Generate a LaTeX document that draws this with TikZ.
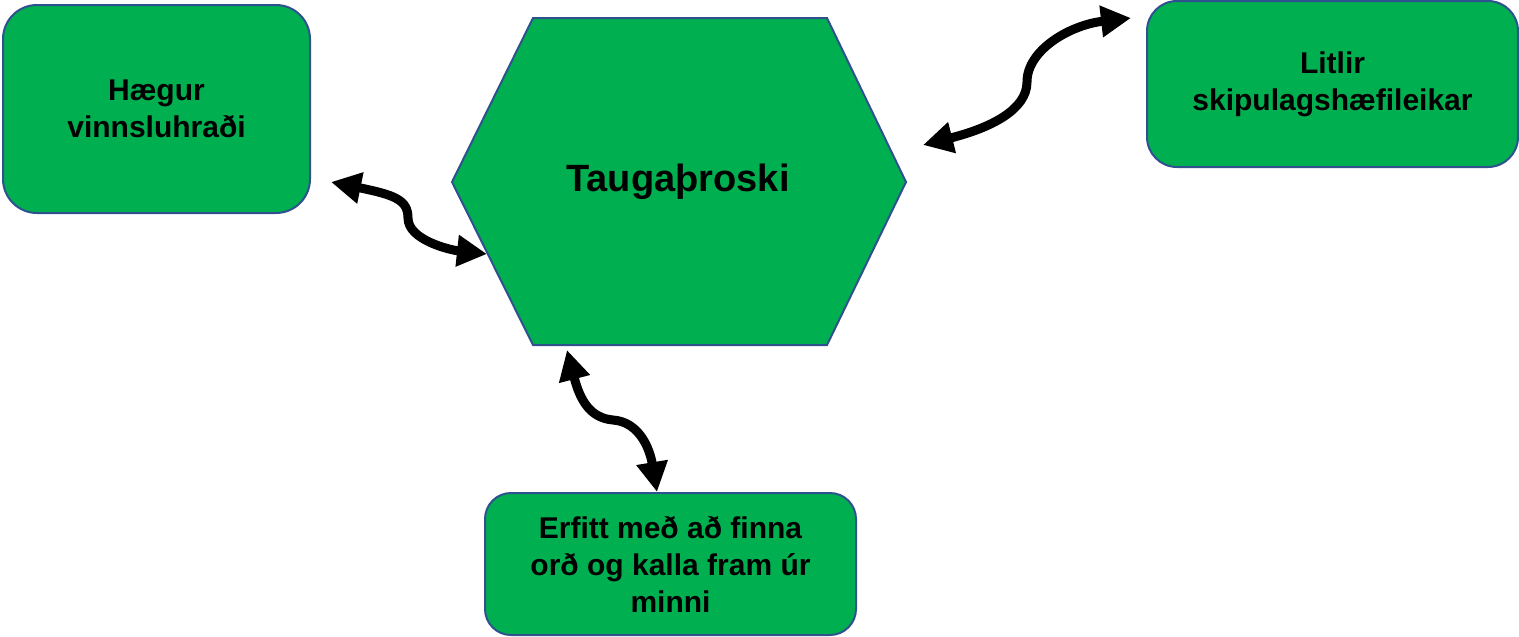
\documentclass[tikz,border=0pt]{standalone}
\usepackage{fontspec}
\setmainfont{Liberation Sans}
\usetikzlibrary{arrows.meta}
\definecolor{boxgreen}{HTML}{00B050}
\definecolor{boxblue}{RGB}{47,82,143}
\tikzset{
  greenbox/.style={draw=boxblue, line width=2pt, fill=boxgreen, align=center,
    inner sep=0pt, font=\bfseries\fontsize{30}{37}\selectfont},
  twoway/.style={line width=9pt, draw=black,
    {Triangle[length=30pt,width=30pt]}-{Triangle[length=30pt,width=30pt]}}
}
\begin{document}
\begin{tikzpicture}[x=1pt,y=-1pt]
\useasboundingbox (0,0) rectangle (1519,637);
% boxes
\node[greenbox, minimum width=307pt, minimum height=208pt, rounded corners=34pt]
  (b1) at (156.5,109) {Hægur\\vinnsluhraði};
\node[greenbox, minimum width=371pt, minimum height=166pt, rounded corners=30pt]
  (b2) at (1332.5,84) {Litlir\\skipulagshæfileikar};
\node[greenbox, minimum width=371pt, minimum height=142pt, rounded corners=26pt]
  (b3) at (670.5,564) {Erfitt með að finna\\orð og kalla fram úr\\minni};
% hexagon
\draw[draw=boxblue, line width=2pt, fill=boxgreen]
  (533,18) -- (827,18) -- (906,182) -- (827,345) -- (533,345) -- (452,182) -- cycle;
\node[font=\bfseries\fontsize{38}{44}\selectfont] (hex) at (678,182) {Taugaþroski};
% arrow end points
\coordinate (a1s) at (331,182);
\coordinate (a1e) at (487,254);
\coordinate (a2s) at (923,145);
\coordinate (a2e) at (1131,18);
\coordinate (a3s) at (567,350);
\coordinate (a3e) at (657,492);
% arrows
\draw[twoway] (a1s) .. controls (395,195) and (408,200) .. (408,218)
  .. controls (408,240) and (450,250) .. (a1e);
\draw[twoway] (a2s) .. controls (990,128) and (1027,110) .. (1027,82)
  .. controls (1027,50) and (1070,25) .. (a2e);
\draw[twoway] (a3s) .. controls (580,400) and (590,418) .. (613,420)
  .. controls (640,422) and (650,450) .. (a3e);
\end{tikzpicture}
\end{document}
